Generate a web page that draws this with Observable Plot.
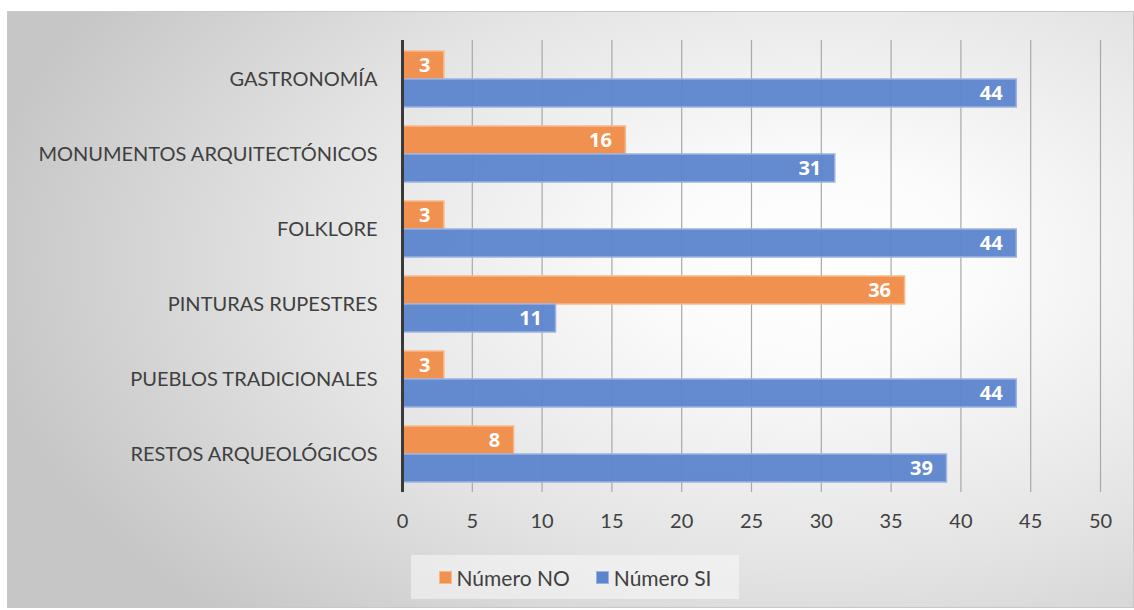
<!DOCTYPE html>
<html>
<head>
<meta charset="utf-8">
<script src="https://cdn.jsdelivr.net/npm/d3@7"></script>
<script src="https://cdn.jsdelivr.net/npm/@observablehq/plot@0.6"></script>
<style>
  html, body { margin: 0; padding: 0; background: #fff; }
  #wrap { position: relative; width: 1134px; height: 610px; overflow: hidden; }
  #frame {
    position: absolute; left: 7px; top: 11px; width: 1127px; height: 597px;
    box-sizing: border-box; border: 1px solid #c8c8c8;
    background: radial-gradient(ellipse 75% 85% at 72% 42%, #ffffff 0%, #fbfbfb 20%, #e4e4e4 60%, #c6c6c6 100%);
  }
  #chart { position: absolute; left: 0; top: 0; }
  #legend {
    position: absolute; left: 411px; top: 555px; width: 328px; height: 44px;
    background: rgba(250,250,250,0.55);
    display: flex; align-items: center; justify-content: center; gap: 26px;
    font-family: Lato, "Open Sans", sans-serif; font-size: 21px; color: #404040;
  }
  .item { display: flex; align-items: center; gap: 5px; }
  .sw { width: 13px; height: 13px; display: inline-block; box-sizing: border-box; }
</style>
</head>
<body>
<div id="wrap">
  <div id="frame"></div>
  <div id="chart"></div>
  <div id="legend"></div>
</div>
<script>
const categories = ["GASTRONOMÍA", "MONUMENTOS ARQUITECTÓNICOS", "FOLKLORE", "PINTURAS RUPESTRES", "PUEBLOS TRADICIONALES", "RESTOS ARQUEOLÓGICOS"];
const seriesNames = ["Número NO", "Número SI"];
const numeroNO = [3, 16, 3, 36, 3, 8];
const numeroSI = [44, 31, 44, 11, 44, 39];
const xTicks = [0, 5, 10, 15, 20, 25, 30, 35, 40, 45, 50];
const colors = ["#F0914F", "#5C84CE"];
const strokes = ["#F6B98C", "#9AB3E2"];

const dataNO = categories.map((c, i) => ({category: c, value: numeroNO[i]}));
const dataSI = categories.map((c, i) => ({category: c, value: numeroSI[i]}));

const font = "Lato, 'Open Sans', sans-serif";

const chart = Plot.plot({
  width: 1134,
  height: 545,
  marginLeft: 402,
  marginRight: 34,
  marginTop: 40,
  marginBottom: 53,
  style: {fontFamily: font, fontSize: "20px", color: "#404040", background: "transparent", overflow: "visible"},
  x: {domain: [0, 50], ticks: xTicks, grid: false, label: null},
  y: {domain: categories, paddingInner: 0.256, paddingOuter: 0.128, label: null},
  marks: [
    Plot.ruleX(xTicks, {x: d => d, stroke: "#a8a8a8", strokeWidth: 1.2}),
    Plot.barX(dataNO, {x: "value", y: "category", insetBottom: 28, fill: colors[0], stroke: strokes[0], strokeWidth: 1.5}),
    Plot.barX(dataSI, {x: "value", y: "category", insetTop: 28, fill: colors[1], fillOpacity: 0.95, stroke: strokes[1], strokeWidth: 1.5}),
    Plot.text(dataNO, {x: "value", y: "category", text: d => String(d.value), dy: -14, dx: -14, textAnchor: "end", fill: "white", fontWeight: "bold", fontSize: 20, fontFamily: "'Open Sans', Lato, sans-serif"}),
    Plot.text(dataSI, {x: "value", y: "category", text: d => String(d.value), dy: 14, dx: -14, textAnchor: "end", fill: "white", fontWeight: "bold", fontSize: 20, fontFamily: "'Open Sans', Lato, sans-serif"}),
    Plot.ruleX([0], {stroke: "#3a3a3a", strokeWidth: 3}),
    Plot.axisX({ticks: xTicks, tickSize: 0, tickPadding: 21, label: null, fontSize: 20}),
    Plot.axisY({tickSize: 0, tickPadding: 25, label: null, fontSize: 20})
  ]
});
document.getElementById("chart").appendChild(chart);

const legend = document.getElementById("legend");
seriesNames.forEach((name, i) => {
  const item = document.createElement("div");
  item.className = "item";
  const sw = document.createElement("span");
  sw.className = "sw";
  sw.style.background = colors[i];
  sw.style.border = "1px solid " + strokes[i];
  const t = document.createElement("span");
  t.textContent = name;
  item.appendChild(sw);
  item.appendChild(t);
  legend.appendChild(item);
});
</script>
</body>
</html>
